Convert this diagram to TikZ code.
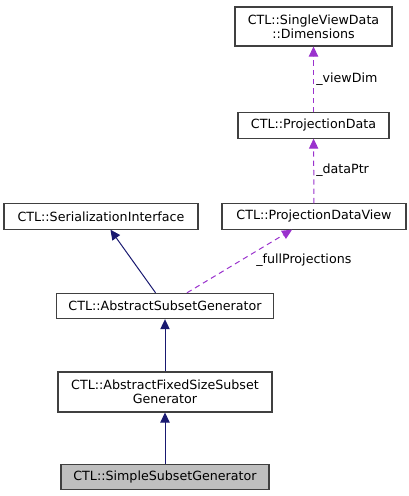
\documentclass[tikz,border=0pt]{standalone}
\usepackage{fontspec}
\setmainfont{DejaVu Sans}
\usetikzlibrary{positioning,arrows.meta}

\definecolor{inhcol}{RGB}{25,25,112}
\definecolor{usecol}{RGB}{154,50,205}
\definecolor{boxline}{RGB}{64,64,64}

\begin{document}
\begin{tikzpicture}[x=0.75pt,y=-0.75pt,
	every node/.style={font=\fontsize{9.5}{10.5}\selectfont,inner sep=0pt},
	box/.style={draw=boxline,line width=0.8pt,fill=white,align=center,minimum height=19pt},
	inh/.style={draw=inhcol,line width=0.75pt,-{Triangle[length=7.5pt,width=7pt]}},
	use/.style={draw=usecol,line width=0.75pt,dash pattern=on 4pt off 3pt,-{Triangle[length=7.5pt,width=7pt]}},
	lbl/.style={anchor=west}]

\useasboundingbox (0,0) rectangle (409,496);

%\draw[color=black!30](0,0)grid(409,496);

\node[box,minimum width=117.75pt,minimum height=29.25pt] (dim) at (313.5,26.5) {CTL::SingleViewData\\::Dimensions};
\node[box,minimum width=113.25pt] (pd) at (313.5,125.5) {CTL::ProjectionData};
\node[box,minimum width=145.5pt] (ser) at (101,216.5) {CTL::SerializationInterface};
\node[box,minimum width=138pt] (pdv) at (314,216.5) {CTL::ProjectionDataView};
\node[box,minimum width=162.75pt] (asg) at (165,306) {CTL::AbstractSubsetGenerator};
\node[box,minimum width=160.5pt,minimum height=30pt] (afs) at (165,392) {CTL::AbstractFixedSizeSubset\\Generator};
\node[box,minimum width=156pt,fill={rgb,255:red,191;green,191;blue,191}] (ssg) at (165,477) {CTL::SimpleSubsetGenerator};

\draw[use] (pd) -- (dim);
\draw[use] (pdv) -- (pd);
\draw[inh] (asg) -- (ser);
\draw[use] (asg) -- (pdv);
\draw[inh] (afs) -- (asg);
\draw[inh] (ssg) -- (afs);

\node[lbl] at (316,79) {\_viewDim};
\node[lbl] at (316,170) {\_dataPtr};
\node[lbl] at (256,260) {\_fullProjections};

\end{tikzpicture}
\end{document}
